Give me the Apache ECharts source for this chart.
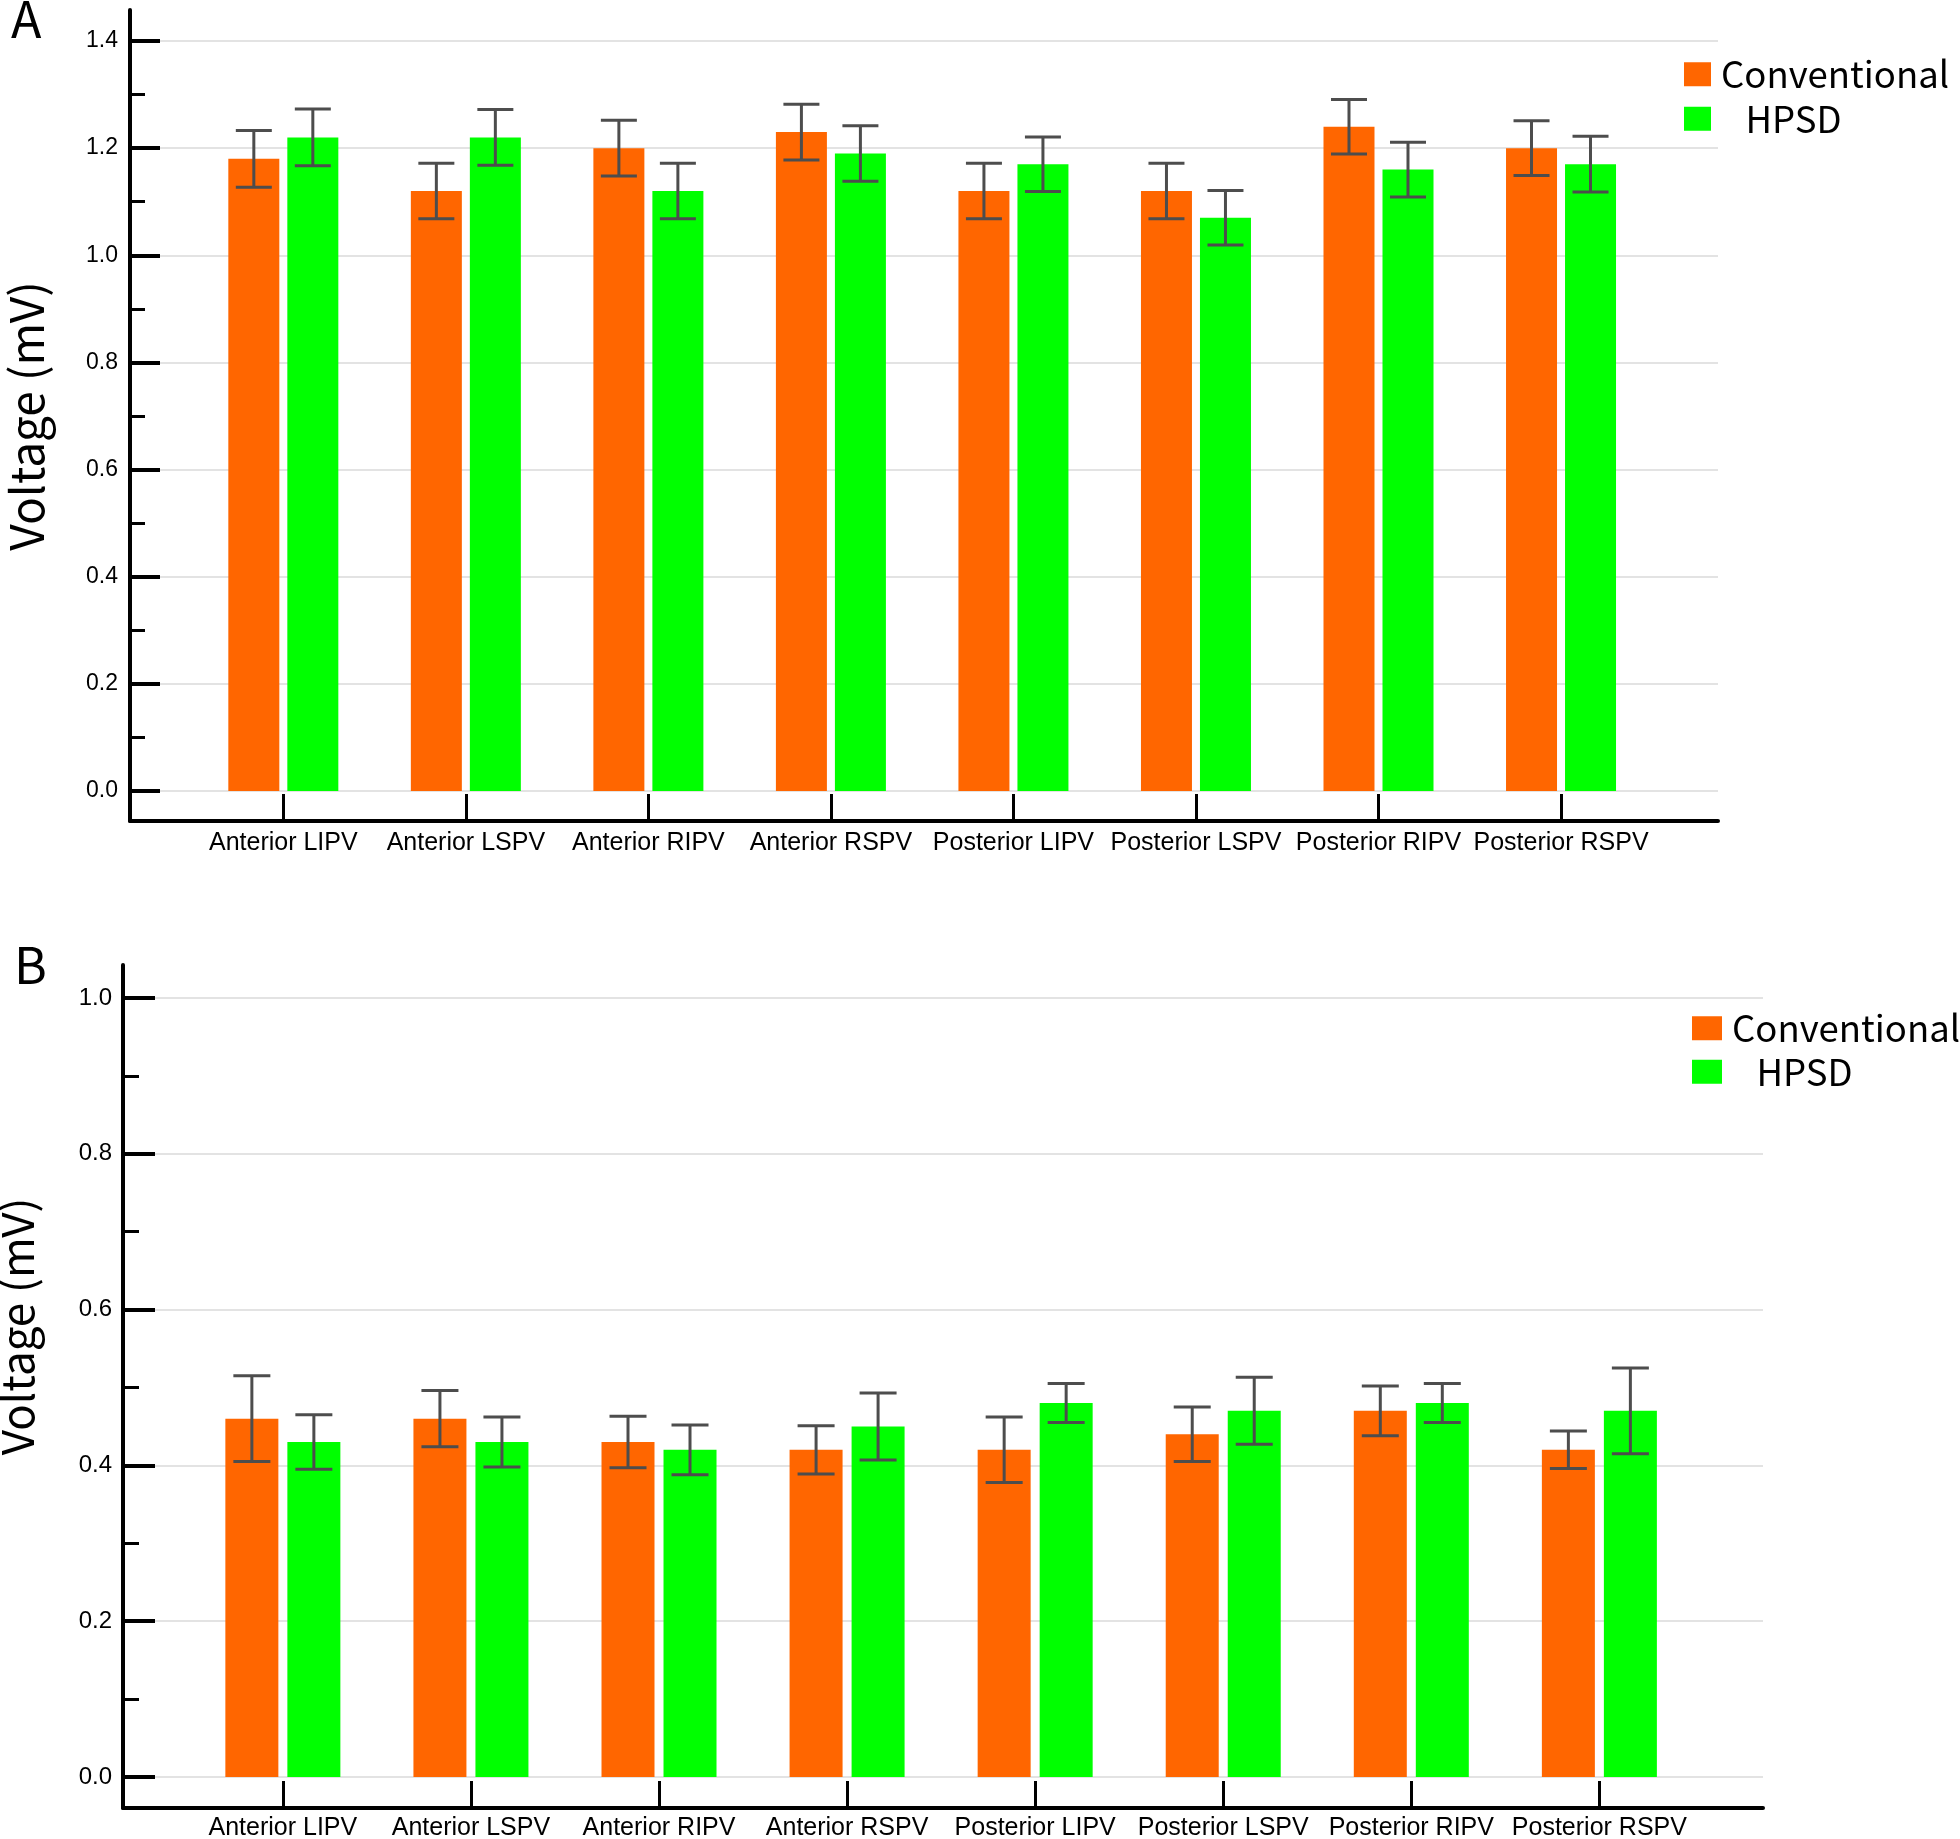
<!DOCTYPE html>
<html><head><meta charset="utf-8">
<script src="https://cdn.jsdelivr.net/npm/echarts@6/dist/echarts.min.js"></script>
<style>html,body{margin:0;padding:0;background:#fff}#c{width:1960px;height:1839px}</style>
</head><body><div id="c"></div>
<script>
// ---------------- data ----------------
const categories = ['Anterior LIPV','Anterior LSPV','Anterior RIPV','Anterior RSPV','Posterior LIPV','Posterior LSPV','Posterior RIPV','Posterior RSPV'];
const seriesNames = ['Conventional','HPSD'];

const panelA_conventional     = [1.18, 1.12, 1.20, 1.23, 1.12, 1.12, 1.24, 1.20];
const panelA_conventional_err = [0.053,0.052,0.052,0.052,0.052,0.052,0.051,0.051];
const panelA_hpsd             = [1.22, 1.22, 1.12, 1.19, 1.17, 1.07, 1.16, 1.17];
const panelA_hpsd_err         = [0.053,0.052,0.052,0.052,0.051,0.051,0.051,0.052];

const panelB_conventional     = [0.46, 0.46, 0.43, 0.42, 0.42, 0.44, 0.47, 0.42];
const panelB_conventional_err = [0.055,0.036,0.033,0.031,0.042,0.035,0.032,0.024];
const panelB_hpsd             = [0.43, 0.43, 0.42, 0.45, 0.48, 0.47, 0.48, 0.47];
const panelB_hpsd_err         = [0.035,0.032,0.032,0.043,0.025,0.043,0.025,0.055];

const panelA_yScale = {min: 0, max: 1.4, interval: 0.2};
const panelB_yScale = {min: 0, max: 1.0, interval: 0.2};
const panelLetters = ['A', 'B'];
const yAxisTitle = 'Voltage (mV)';

// ---------------- styling / layout ----------------
const COLORS = ['#FF6600', '#00FF00'];
const ERR_COLOR = '#4d4d4d';
const LABEL_FONT = 'Liberation Sans, Arial, sans-serif';
const CJK_FONT = 'Noto Sans CJK SC, Noto Sans, sans-serif';
const catIdx = categories.map((c, i) => i);

const panels = [
  { letter: panelLetters[0], letterPos: {left: 11, top: -6}, yScale: panelA_yScale,
    frame: {left: 130, top: 10, width: 1588, height: 811},
    main:  {left: 130, top: 41, width: 1588, height: 750},
    xMin: -0.84, xMax: 7.86,
    xOffset: 30, barW: 51, gap: 8, cap: 36, tickLen: 30, yLabelMargin: 12, yLabelSize: 23,
    nameGap: 80, nameSize: 46, namePad: [0, 0, 0, 0], labelMargin: 10,
    legend: {left: 1684, top: 56, itemWidth: 27, itemHeight: 24, itemGap: 8},
    values: [panelA_conventional, panelA_hpsd], errs: [panelA_conventional_err, panelA_hpsd_err] },
  { letter: panelLetters[1], letterPos: {left: 14, top: 940}, yScale: panelB_yScale,
    frame: {left: 123, top: 965, width: 1640, height: 843},
    main:  {left: 123, top: 998, width: 1640, height: 779},
    xMin: -0.85, xMax: 7.87,
    xOffset: 31, barW: 53, gap: 9, cap: 37, tickLen: 32, yLabelMargin: 11, yLabelSize: 24,
    nameGap: 84, nameSize: 44, namePad: [0, 0, 0, 122], labelMargin: 8,
    legend: {left: 1692, top: 1010, itemWidth: 30, itemHeight: 24, itemGap: 7},
    values: [panelB_conventional, panelB_hpsd], errs: [panelB_conventional_err, panelB_hpsd_err] }
];

const grid = [], xAxis = [], yAxis = [], series = [], legend = [], title = [];

panels.forEach((p, pi) => {
  const fi = grid.length;      // frame grid index
  grid.push(Object.assign({containLabel: false, outerBoundsMode: 'none'}, p.frame));
  const mi = grid.length;      // main grid index
  grid.push(Object.assign({containLabel: false, outerBoundsMode: 'none'}, p.main));

  // frame axes: only the long y axis line
  xAxis.push({type: 'value', gridIndex: fi, show: false, min: 0, max: 1});
  yAxis.push({type: 'value', gridIndex: fi, min: 0, max: 1,
    axisLine: {show: true, onZero: false, lineStyle: {color: '#000', width: 4}},
    axisTick: {show: false}, axisLabel: {show: false}, splitLine: {show: false}});

  // main axes
  xAxis.push({type: 'value', gridIndex: mi, min: p.xMin, max: p.xMax, offset: p.xOffset,
    axisLine: {show: true, onZero: false, lineStyle: {color: '#000', width: 4}},
    axisTick: {show: true, inside: true, length: 27, customValues: catIdx, lineStyle: {color: '#000', width: 3}},
    axisLabel: {show: true, customValues: catIdx, formatter: v => categories[Math.round(v)],
      fontSize: 25, color: '#000', margin: p.labelMargin, fontFamily: LABEL_FONT},
    splitLine: {show: false}});
  yAxis.push({type: 'value', gridIndex: mi, min: p.yScale.min, max: p.yScale.max, interval: p.yScale.interval,
    axisLine: {show: false, onZero: false},
    axisTick: {show: true, inside: true, length: p.tickLen, lineStyle: {color: '#000', width: 4}},
    minorTick: {show: true, splitNumber: 2, length: p.tickLen / 2, lineStyle: {color: '#000', width: 3}},
    axisLabel: {show: true, fontSize: p.yLabelSize, color: '#000', margin: p.yLabelMargin, fontFamily: LABEL_FONT,
      formatter: v => v.toFixed(1)},
    splitLine: {show: true, lineStyle: {color: '#e3e3e3', width: 2}},
    name: yAxisTitle, nameLocation: 'middle', nameGap: p.nameGap, nameMoveOverlap: false,
    nameTextStyle: {fontSize: p.nameSize, color: '#000', fontFamily: CJK_FONT, padding: p.namePad}});

  const barGapPct = (p.gap / p.barW * 100).toFixed(1) + '%';
  seriesNames.forEach((name, si) => {
    series.push({type: 'bar', name: name, xAxisIndex: mi, yAxisIndex: mi,
      data: p.values[si].map((v, i) => [i, v]),
      barWidth: p.barW, barGap: barGapPct,
      itemStyle: {color: COLORS[si]}, z: 2, silent: true});
  });
  seriesNames.forEach((name, si) => {
    const side = si === 0 ? -1 : 1;
    const vals = p.values[si], errs = p.errs[si];
    series.push({type: 'custom', xAxisIndex: mi, yAxisIndex: mi, z: 5, silent: true,
      data: vals.map((v, i) => [i, v - errs[i], v + errs[i]]),
      encode: {x: 0, y: [1, 2]},
      renderItem: (params, api) => {
        const i = api.value(0);
        const lo = api.coord([i, api.value(1)]);
        const hi = api.coord([i, api.value(2)]);
        const cx = lo[0] + side * (p.barW + p.gap) / 2;
        const h = p.cap / 2;
        const style = {stroke: ERR_COLOR, lineWidth: 3};
        return {type: 'group', children: [
          {type: 'line', shape: {x1: cx, y1: hi[1], x2: cx, y2: lo[1]}, style: style},
          {type: 'line', shape: {x1: cx - h, y1: hi[1], x2: cx + h, y2: hi[1]}, style: style},
          {type: 'line', shape: {x1: cx - h, y1: lo[1], x2: cx + h, y2: lo[1]}, style: style}
        ]};
      }});
  });

  legend.push(Object.assign({orient: 'vertical', data: seriesNames, icon: 'rect', padding: 0,
    selectedMode: false, backgroundColor: '#fff',
    formatter: n => n === 'HPSD' ? '   ' + n : n,
    textStyle: {fontSize: 36.5, color: '#000', fontFamily: CJK_FONT, padding: [0, 0, 0, 5]}}, p.legend));

  title.push({text: p.letter, left: p.letterPos.left, top: p.letterPos.top, padding: 0,
    textStyle: {fontSize: 50, fontWeight: 'normal', color: '#000', fontFamily: CJK_FONT}});
});

const chart = echarts.init(document.getElementById('c'), null, {renderer: 'canvas'});
chart.setOption({animation: false, backgroundColor: '#fff', title, legend, grid, xAxis, yAxis, series});
</script>
</body></html>
